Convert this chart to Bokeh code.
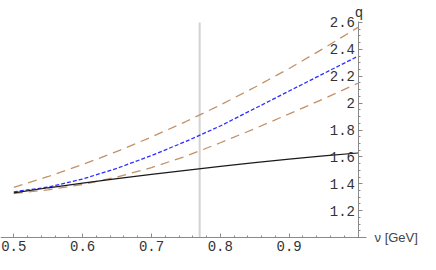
from bokeh.plotting import figure
from bokeh.models import LinearAxis, FixedTicker, Range1d
from bokeh.core.properties import value
from bokeh.embed import file_html
from bokeh.resources import INLINE

# ---- data ----
nu = [0.50, 0.55, 0.60, 0.65, 0.70, 0.75, 0.80, 0.85, 0.90, 0.95, 1.00]
q_black = [1.332, 1.370, 1.405, 1.438, 1.470, 1.500, 1.530, 1.557, 1.583, 1.607, 1.629]
q_blue = [1.340, 1.375, 1.435, 1.515, 1.610, 1.715, 1.830, 1.960, 2.090, 2.220, 2.349]
q_brown_upper = [1.373, 1.454, 1.543, 1.641, 1.748, 1.863, 1.986, 2.118, 2.258, 2.407, 2.564]
q_brown_lower = [1.328, 1.355, 1.395, 1.450, 1.520, 1.605, 1.705, 1.810, 1.920, 2.032, 2.148]
rho_nu = [0.77, 0.77]
rho_q = [1.0, 2.6]

x_ticks = [0.5, 0.6, 0.7, 0.8, 0.9]
x_minor = [0.50, 0.52, 0.54, 0.56, 0.58, 0.60, 0.62, 0.64, 0.66, 0.68, 0.70,
           0.72, 0.74, 0.76, 0.78, 0.80, 0.82, 0.84, 0.86, 0.88, 0.90,
           0.92, 0.94, 0.96, 0.98]
y_ticks = [1.2, 1.4, 1.6, 1.8, 2.0, 2.2, 2.4, 2.6]
y_tick_labels = ["1.2", "1.4", "1.6", "1.8", "2", "2.2", "2.4", "2.6"]
y_minor = [1.05, 1.10, 1.15, 1.20, 1.25, 1.30, 1.35, 1.40, 1.45, 1.50, 1.55,
           1.60, 1.65, 1.70, 1.75, 1.80, 1.85, 1.90, 1.95, 2.00, 2.05, 2.10,
           2.15, 2.20, 2.25, 2.30, 2.35, 2.40, 2.45, 2.50, 2.55, 2.60]
x_label = "\u03bd [GeV]"
y_label = "q"

MONO = "Liberation Mono"

# ---- figure ----
p = figure(width=420, height=254, output_backend="svg", toolbar_location=None,
           x_axis_type=None, y_axis_type=None,
           x_range=Range1d(0.48068, 1.09079), y_range=Range1d(0.87349, 2.76372),
           min_border_left=0, min_border_right=0, min_border_top=0, min_border_bottom=0)
p.outline_line_color = None
p.background_fill_color = "white"
p.border_fill_color = "white"

axis_col = "#8a8a8a"
lab_col = "#333333"

xaxis = LinearAxis(fixed_location=1.0, bounds=(0.48068, 1.0117),
                   ticker=FixedTicker(ticks=x_ticks, minor_ticks=x_minor))
yaxis = LinearAxis(fixed_location=1.0, bounds=(1.0, 2.605),
                   ticker=FixedTicker(ticks=y_ticks, minor_ticks=y_minor),
                   major_label_overrides={t: s for t, s in zip(y_ticks, y_tick_labels)})
for ax in (xaxis, yaxis):
    ax.axis_line_color = axis_col
    ax.axis_line_width = 1
    ax.major_tick_line_color = axis_col
    ax.minor_tick_line_color = axis_col
    ax.major_tick_in = 4
    ax.major_tick_out = 0
    ax.minor_tick_in = 2
    ax.minor_tick_out = 0
    ax.major_label_text_font = MONO
    ax.major_label_text_font_size = "14px"
    ax.major_label_text_color = lab_col
xaxis.major_label_standoff = 3
yaxis.major_label_standoff = 3
p.add_layout(xaxis, "below")
p.add_layout(yaxis, "left")

# vertical marker line
p.line(rho_nu, rho_q, line_color="#d2d2d2", line_width=2)

# curves
p.line(nu, q_brown_upper, line_color="#c39166", line_width=1.3, line_dash="9 6")
p.line(nu, q_brown_lower, line_color="#c39166", line_width=1.3, line_dash="9 6")
p.line(nu, q_blue, line_color="#2f2fff", line_width=1.3, line_dash="4 2")
p.line(nu, q_black, line_color="#1a1a1a", line_width=1.2)

# axis labels (inside the frame, which fills the whole canvas)
p.text(x=[1.00145], y=[2.6744], text=[y_label], text_font=value(MONO),
       text_font_size="14px", text_color=lab_col, text_align="center",
       text_baseline="alphabetic")
p.text(x=[1.0240], y=[1.0], text=[x_label], text_font=value("Liberation Sans"),
       text_font_size="13px", text_color="#444444", text_align="left",
       text_baseline="middle")

open("out.html", "w").write(file_html(p, INLINE))
